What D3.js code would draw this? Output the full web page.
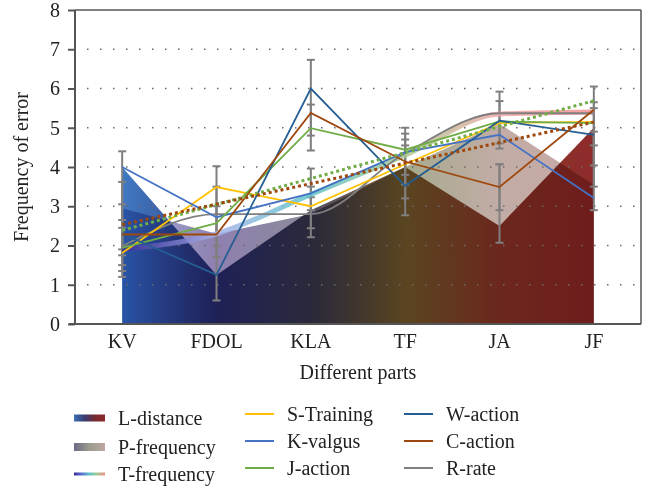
<!DOCTYPE html>
<html lang="en">
  <head>
    <meta charset="utf-8">
    <title>Frequency of error</title>
    <script src="https://cdn.jsdelivr.net/npm/d3@7"></script>
    <style type="text/css">
      body { margin: 0; background: #fff; }
      text { font-family: "Liberation Serif", "DejaVu Serif", serif; fill: #222; }
      .tick text { font-size: 20px; }
      .axisTitle { font-size: 20px; }
      .legendText { font-size: 20px; }
    </style>
  </head>
  <body>
    <svg id="chart" width="659" height="489"></svg>
    <script type="text/javascript">
      // categories
      var parts = ["KV", "FDOL", "KLA", "TF", "JA", "JF"];
      var yTicks = [0, 1, 2, 3, 4, 5, 6, 7, 8];

      // area series
      var lDistance  = [4.0, 1.25, 2.9, 4.0, 2.5, 5.0];
      var pFrequency = [2.95, 2.3, 2.8, 4.0, 5.1, 3.55];
      // thick gradient line
      var tFrequency = [1.9, 2.3, 3.3, 4.3, 5.35, 5.4];

      // line series
      var sTraining = [1.81, 3.49, 3.0, 4.07, 5.12, 5.15];
      var kValgus   = [4.0, 2.72, 3.33, 4.38, 4.82, 3.21];
      var jAction   = [1.94, 2.57, 4.99, 4.44, 5.16, 5.12];
      var wAction   = [2.3, 1.25, 6.0, 3.52, 5.18, 4.82];
      var cAction   = [2.28, 2.28, 5.38, 4.14, 3.49, 5.46];
      var rRate     = [1.98, 2.8, 2.8, 4.35, 5.37, 5.37];

      // error bars: [category, low, high]
      var errorBars = [
        ["KV", 1.2, 4.4], ["KV", 1.35, 3.62], ["KV", 1.5, 3.05], ["KV", 1.75, 2.65], ["KV", 1.9, 2.45],
        ["FDOL", 0.6, 4.02], ["FDOL", 1.7, 3.5], ["FDOL", 2.0, 3.0],
        ["KLA", 4.42, 6.73], ["KLA", 4.8, 5.59], ["KLA", 2.21, 3.96], ["KLA", 2.44, 3.5], ["KLA", 2.9, 3.23],
        ["TF", 2.77, 5.0], ["TF", 3.2, 4.85], ["TF", 3.55, 4.7], ["TF", 3.8, 4.55],
        ["JA", 4.47, 5.92], ["JA", 4.6, 5.68], ["JA", 2.07, 4.07], ["JA", 2.9, 4.07],
        ["JF", 2.9, 6.05], ["JF", 3.5, 5.65], ["JF", 4.04, 5.5], ["JF", 4.55, 4.9]
      ];

      var svg = d3.select("#chart"),
        margin = {top: 10, right: 18, bottom: 165, left: 75},
        width = +svg.attr("width") - margin.left - margin.right,
        height = +svg.attr("height") - margin.top - margin.bottom;

      var x = d3.scaleBand().domain(parts).range([0, width]);
      var y = d3.scaleLinear().domain([0, 8]).range([height, 0]);
      var cx = function(i) { return x(parts[i]) + x.bandwidth() / 2; };

      var defs = svg.append("defs");
      function gradient(id, stops, x1, x2, units) {
        var g = defs.append("linearGradient").attr("id", id)
          .attr("x1", x1).attr("x2", x2).attr("y1", 0).attr("y2", 0);
        if (units) g.attr("gradientUnits", units);
        stops.forEach(function(s) {
          g.append("stop").attr("offset", s[0]).attr("stop-color", s[1]);
        });
      }
      var lStops = [[0, "#4079c4"], [0.2, "#36417e"], [0.4, "#4d4c62"], [0.6, "#8a673a"], [0.8, "#8e3a2c"], [1, "#8d2b2b"]];
      var pStops = [[0, "#a3b3da"], [0.2, "#8f80b0"], [0.4, "#8c8a9a"], [0.6, "#a6aa8e"], [0.8, "#c2aca6"], [1, "#c8a8a4"]];
      var tStops = [[0, "#3a2a9a"], [0.2, "#a8b4ec"], [0.4, "#60c4c8"], [0.6, "#a8c890"], [0.8, "#f0a8a8"], [1, "#f08c8c"]];
      gradient("gL", lStops, cx(0), cx(5), "userSpaceOnUse");
      gradient("gP", pStops, cx(0), cx(5), "userSpaceOnUse");
      gradient("gT", tStops, cx(0), cx(5), "userSpaceOnUse");
      gradient("gLleg", [[0, "#3a70b8"], [0.35, "#3a3a6e"], [0.7, "#7a2a30"], [1, "#8a2a2a"]], 0, 1);
      gradient("gPleg", [[0, "#6e6a85"], [0.5, "#9a9c90"], [1, "#c0a8a0"]], 0, 1);
      gradient("gTleg", [[0, "#3a2a9a"], [0.25, "#5a70d0"], [0.5, "#60c4c8"], [0.75, "#a8c890"], [1, "#f08c8c"]], 0, 1);

      var g = svg.append("g")
        .attr("transform", "translate(" + margin.left + "," + margin.top + ")");

      var area = d3.area()
        .x(function(d, i) { return cx(i); })
        .y0(y(0))
        .y1(function(d) { return y(d); });

      g.append("path").datum(lDistance)
        .attr("d", area).attr("fill", "url(#gL)");
      g.append("path").datum(pFrequency)
        .attr("d", area).attr("fill", "url(#gP)")
        .style("mix-blend-mode", "multiply");

      // dotted grid
      g.selectAll(".grid")
        .data([1, 2, 3, 4, 5, 6, 7])
        .enter().append("line")
          .attr("x1", 12).attr("x2", width)
          .attr("y1", function(d) { return y(d); })
          .attr("y2", function(d) { return y(d); })
          .attr("stroke", "#6a6a6a")
          .attr("stroke-width", 1.5)
          .attr("stroke-dasharray", "1.5,11.5");

      // error bars
      var eb = g.selectAll(".err").data(errorBars).enter().append("g")
        .attr("stroke", "#7f7f7f").attr("stroke-width", 2);
      eb.append("line")
        .attr("x1", function(d) { return x(d[0]) + x.bandwidth() / 2; })
        .attr("x2", function(d) { return x(d[0]) + x.bandwidth() / 2; })
        .attr("y1", function(d) { return y(d[1]); })
        .attr("y2", function(d) { return y(d[2]); });
      [1, 2].forEach(function(k) {
        eb.append("line")
          .attr("x1", function(d) { return x(d[0]) + x.bandwidth() / 2 - 4; })
          .attr("x2", function(d) { return x(d[0]) + x.bandwidth() / 2 + 4; })
          .attr("y1", function(d) { return y(d[k]); })
          .attr("y2", function(d) { return y(d[k]); });
      });

      var line = d3.line()
        .x(function(d, i) { return cx(i); })
        .y(function(d) { return y(d); });
      var smooth = d3.line()
        .x(function(d, i) { return cx(i); })
        .y(function(d) { return y(d); })
        .curve(d3.curveMonotoneX);

      g.append("path").datum(tFrequency)
        .attr("d", smooth).attr("fill", "none")
        .attr("stroke", "url(#gT)").attr("stroke-width", 5).attr("opacity", 0.85);

      var lineSeries = [
        {name: "R-rate", values: rRate, color: "#7f7f7f", curve: true},
        {name: "S-Training", values: sTraining, color: "#ffc000"},
        {name: "K-valgus", values: kValgus, color: "#4472c4"},
        {name: "J-action", values: jAction, color: "#70ad47"},
        {name: "W-action", values: wAction, color: "#255e91"},
        {name: "C-action", values: cAction, color: "#9e480e"}
      ];
      lineSeries.forEach(function(s) {
        g.append("path").datum(s.values)
          .attr("d", s.curve ? smooth : line)
          .attr("fill", "none")
          .attr("stroke", s.color)
          .attr("stroke-width", 1.8);
      });

      // linear trend lines for J-action and C-action
      function trend(vals) {
        var n = vals.length, mx = (n - 1) / 2, my = d3.mean(vals);
        var num = d3.sum(vals, function(v, i) { return (i - mx) * (v - my); });
        var den = d3.sum(vals, function(v, i) { return (i - mx) * (i - mx); });
        var b = num / den, a = my - b * mx;
        return [a, a + b * (n - 1)];
      }
      [[jAction, "#70ad47"], [cAction, "#9e480e"]].forEach(function(t) {
        var ends = trend(t[0]);
        g.append("line")
          .attr("x1", cx(0)).attr("x2", cx(parts.length - 1))
          .attr("y1", y(ends[0])).attr("y2", y(ends[1]))
          .attr("stroke", t[1]).attr("stroke-width", 3)
          .attr("stroke-dasharray", "3,3");
      });

      // frame and axes
      g.append("line").attr("x1", 0).attr("x2", width).attr("y1", 0).attr("y2", 0)
        .attr("stroke", "#555").attr("stroke-width", 1.5);
      g.append("line").attr("x1", width).attr("x2", width).attr("y1", 0).attr("y2", height)
        .attr("stroke", "#555").attr("stroke-width", 1.5);

      var yAxis = g.append("g")
        .call(d3.axisLeft(y).tickValues(yTicks).tickSize(7).tickPadding(8).tickFormat(d3.format("d")));
      var xAxis = g.append("g")
        .attr("transform", "translate(0," + height + ")")
        .call(d3.axisBottom(x).tickSize(0).tickPadding(10));
      [yAxis, xAxis].forEach(function(a) {
        a.select(".domain").attr("stroke", "#555").attr("stroke-width", 2);
        a.selectAll(".tick line").attr("stroke", "#555").attr("stroke-width", 2);
        a.selectAll(".tick text").attr("font-size", null).style("font-family", "Liberation Serif").attr("fill", "#222");
      });
      yAxis.select(".domain").attr("d", "M0," + height + "V0");
      xAxis.select(".domain").attr("d", "M-6,0H" + width);

      svg.append("text").attr("class", "axisTitle")
        .attr("transform", "translate(28," + (margin.top + height / 2) + ") rotate(-90)")
        .attr("text-anchor", "middle")
        .text("Frequency of error");
      svg.append("text").attr("class", "axisTitle")
        .attr("x", margin.left + width / 2).attr("y", 379)
        .attr("text-anchor", "middle")
        .text("Different parts");

      // legend
      var legend = svg.append("g");
      var col1 = [
        {name: "L-distance", y: 418, type: "rect", fill: "url(#gLleg)", h: 7},
        {name: "P-frequency", y: 447, type: "rect", fill: "url(#gPleg)", h: 8},
        {name: "T-frequency", y: 474, type: "rect", fill: "url(#gTleg)", h: 3}
      ];
      col1.forEach(function(d) {
        legend.append("rect").attr("x", 74).attr("y", d.y - d.h / 2)
          .attr("width", 31).attr("height", d.h).attr("fill", d.fill);
        legend.append("text").attr("class", "legendText")
          .attr("x", 118).attr("y", d.y).attr("dy", "0.35em").text(d.name);
      });
      var legendLines = [
        {name: "S-Training", color: "#ffc000", x: 245, y: 414},
        {name: "K-valgus", color: "#4472c4", x: 245, y: 441},
        {name: "J-action", color: "#70ad47", x: 245, y: 468},
        {name: "W-action", color: "#255e91", x: 404, y: 414},
        {name: "C-action", color: "#9e480e", x: 404, y: 441},
        {name: "R-rate", color: "#7f7f7f", x: 404, y: 468}
      ];
      legendLines.forEach(function(d) {
        legend.append("line").attr("x1", d.x).attr("x2", d.x + 29)
          .attr("y1", d.y).attr("y2", d.y)
          .attr("stroke", d.color).attr("stroke-width", 2);
        legend.append("text").attr("class", "legendText")
          .attr("x", d.x + 42).attr("y", d.y).attr("dy", "0.35em").text(d.name);
      });
    </script>
  </body>
</html>
